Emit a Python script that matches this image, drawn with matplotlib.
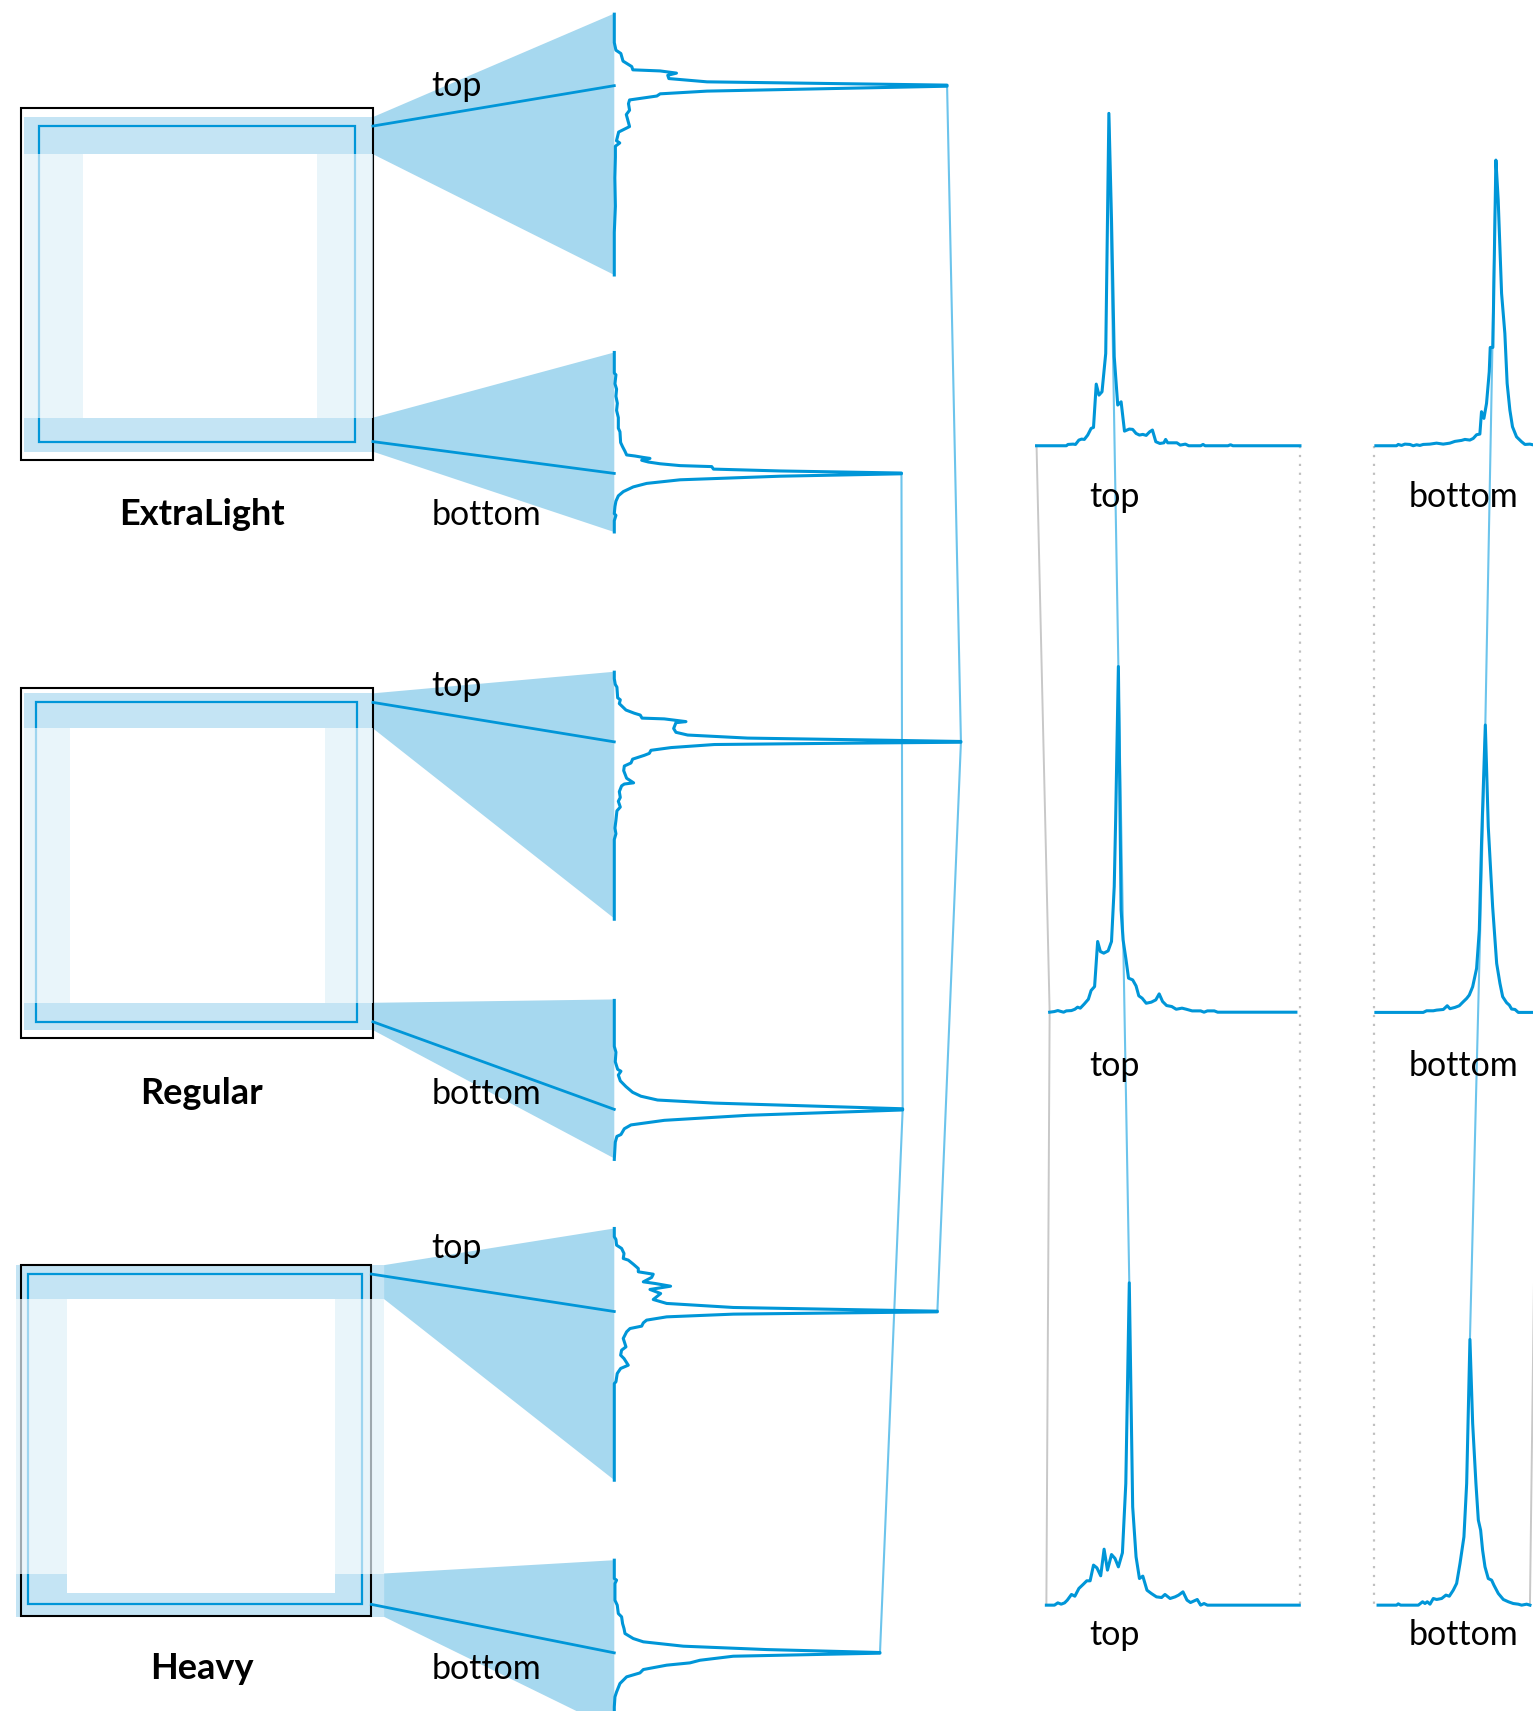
import numpy as np
import matplotlib
matplotlib.use("Agg")
import matplotlib.pyplot as plt
from matplotlib.patches import Rectangle, Polygon

plt.rcParams['font.family'] = ['Lato', 'DejaVu Sans']

# ---------------- DATA ----------------
weights = ["ExtraLight", "Regular", "Heavy"]
edges = ["top", "bottom"]

# vertical profiles (position along funnel, density)
EL_top_pos = [0, 26, 33, 36, 43, 48, 51, 52, 54, 56, 59, 62, 65, 66, 70.5, 73, 75, 78.6, 82, 88, 92, 103, 108, 116, 118, 121, 131, 150, 176, 200, 239]
EL_top_val = [0, 0, 1.5, 6, 8, 16, 17, 42, 57, 49, 50, 85, 305, 305, 85, 42, 39, 14, 13, 14, 11, 14, 4, 2, 5, 1, 1, 0.5, 1, 0, 0]
EL_bot_pos = [0, 18.9, 20.5, 28.7, 33.6, 40.1, 46.6, 53.1, 59.7, 69.4, 72.7, 82.5, 86.4, 90.6, 93.9, 94.9, 96.2, 97.1, 98.8, 100.4, 102.0, 103.7, 104.6, 106.9, 108.6, 110.5, 111.2, 113.4, 116.7, 120.0, 123.2, 127.5, 131.4, 136.3, 141.2, 147.7, 149.3, 154.2, 164.5]
EL_bot_val = [0, 0, 1.5, 0.6, 2.1, 1.5, 2.8, 2.1, 3.7, 3.7, 5.2, 5.8, 7.6, 9.8, 11.3, 19.0, 26.6, 32.7, 25.1, 31.2, 41.9, 60.3, 89.3, 90.9, 152.1, 263.2, 263.2, 152.1, 60.3, 29.7, 17.4, 8.3, 3.7, 1.5, 0.6, 0, 1.5, 0, 0]
R_top_pos = [0, 6.0, 11.2, 13.7, 23.5, 25.3, 28.8, 34.7, 37.6, 39.3, 42.1, 42.8, 45.3, 46.3, 51.6, 55.1, 57.6, 60.4, 62.1, 63.5, 64.2, 64.9, 66.3, 69.1, 71.6, 74.4, 76.2, 79.7, 83.2, 86.0, 90.2, 97.2, 101.4, 102.5, 104.2, 109.5, 114.8, 118.3, 123.6, 127.1, 135.8, 142.9, 148.1, 153.4, 226.4]
R_top_val = [0, 0, 0.9, 2.4, 3.1, 5.5, 4.6, 10.7, 18.3, 23.8, 25.4, 45.8, 65.7, 56.5, 54.4, 56.5, 67.2, 122.2, 232.2, 317.7, 317.7, 232.2, 91.7, 52.0, 33.6, 32.1, 27.5, 16.8, 15.3, 9.2, 8.6, 11.3, 17.7, 9.2, 6.7, 4.6, 5.5, 3.7, 5.5, 2.4, 1.5, 0.6, 1.5, 0, 0]
R_bot_pos = [0, 42.1, 47.4, 56.2, 63.2, 64.9, 68.4, 73.7, 79.0, 84.2, 87.8, 91.3, 94.1, 99.3, 100.4, 105.3, 109.9, 114.1, 117.6, 122.9, 124.6, 129.9, 145.7]
R_bot_val = [0, 0, 1.5, 0.9, 3.1, 6.1, 3.7, 5.5, 10.7, 16.8, 24.4, 39.7, 91.7, 264.3, 264.3, 122.2, 45.8, 15.3, 9.2, 6.1, 2.4, 0.9, 0]
H_top_pos = [0, 7.6, 10.1, 15.3, 18.3, 22.9, 27.5, 29.0, 32.7, 36.7, 39.7, 41.9, 44.9, 48.9, 50.4, 52.9, 55.9, 59.6, 65.1, 68.7, 72.4, 75.8, 76.4, 78.5, 81.0, 84.0, 86.5, 89.5, 91.7, 94.7, 100.8, 108.5, 111.5, 116.1, 119.2, 125.3, 128.3, 132.9, 140.5, 142.1, 230.7]
H_top_val = [0, 0, 1.5, 2.1, 6.7, 8.9, 8.2, 12.8, 17.4, 22.0, 22.0, 35.7, 34.2, 26.6, 37.3, 51.6, 32.7, 42.5, 35.7, 48.0, 109.1, 296.1, 296.1, 109.1, 48.0, 29.6, 26.6, 25.1, 14.4, 11.3, 8.2, 10.7, 6.7, 5.8, 8.9, 12.8, 5.8, 2.7, 1.5, 0, 0]
H_bot_pos = [0, 16.8, 18.3, 21.4, 36.7, 41.2, 48.9, 51.9, 58.1, 62.6, 67.2, 71.8, 74.8, 78.8, 81.9, 84.6, 85.2, 88.0, 91.7, 94.1, 96.2, 100.2, 103.3, 106.9, 113.0, 120.7, 125.3, 134.4, 160]
H_bot_val = [0, 0, 2.1, 0.6, 0.6, 2.7, 3.7, 6.7, 7.6, 8.9, 9.8, 17.4, 26.6, 63.2, 139.6, 243.5, 243.5, 109.0, 78.5, 69.3, 48.0, 26.6, 23.5, 11.3, 5.2, 2.1, 0.6, 0, 0]

# horizontal histograms (position, count)
EL_rt_pos = [0, 27.3, 28.8, 33.5, 35.7, 38.8, 41.3, 43.8, 46.9, 50.0, 52.2, 54.7, 57.2, 60.0, 63.4, 66.3, 68.7, 71.2, 74.4, 77.5, 80.6, 85.0, 88.1, 91.2, 94.3, 97.4, 100.5, 103.7, 106.2, 109.3, 113.0, 116.7, 118.3, 120.2, 128.6, 131.7, 136.4, 139.5, 150.4, 152.6, 154.5, 175.4, 177.8, 180.0, 241.4]
EL_rt_val = [0, 0, 1.2, 1.5, 1.2, 5.2, 6.1, 5.8, 9.8, 15.9, 16.8, 56.5, 46.4, 49.5, 84.6, 304.6, 206.8, 81.6, 37.3, 40.3, 13.4, 15.3, 15.0, 11.3, 9.8, 10.4, 9.5, 12.8, 14.4, 3.7, 2.1, 2.7, 5.8, 2.7, 2.7, 0.6, 1.5, 0, 0, 1.2, 0, 0, 0.9, 0, 0]
EL_rb_pos = [0, 18.9, 20.5, 23.5, 26.6, 31.2, 34.2, 37.3, 40.3, 43.4, 49.5, 55.6, 61.7, 67.8, 72.4, 78.5, 81.6, 86.1, 89.2, 92.3, 95.3, 96.8, 99.0, 101.4, 103.9, 104.8, 107.2, 108.1, 110.0, 112.1, 115.2, 118.2, 120.3, 122.8, 125.2, 128.9, 133.5, 136.6, 141.1, 143.9, 149]
EL_rb_val = [0, 0, 1.2, 0.3, 1.5, 1.2, 0, 0.9, 0.3, 1.2, 1.5, 2.4, 1.5, 2.4, 4.0, 4.9, 5.8, 5.2, 6.7, 10.1, 10.7, 31.2, 25.1, 38.8, 67.8, 90.1, 90.1, 145.7, 261.8, 225.2, 139.6, 103.0, 57.2, 32.7, 17.4, 8.2, 3.7, 1.2, 1.5, 0.9, 0]
R_rt_pos = [0, 4.4, 7.5, 10.6, 12.8, 15.3, 20.0, 23.1, 25.6, 28.1, 31.8, 35.5, 38.0, 41.2, 44.0, 46.5, 49.6, 53.6, 56.7, 59.2, 60.5, 63.0, 65.5, 67.3, 69.8, 72.3, 76.1, 79.2, 81.7, 84.8, 88.5, 93.2, 97.3, 100.4, 103.5, 107.2, 111.9, 116.0, 121.3, 125.3, 130.6, 138.4, 141.5, 144.6, 150.9, 154.0, 225.7]
R_rt_val = [0, 0.6, 1.5, 0.6, 0, 1.2, 1.5, 2.7, 4.6, 3.7, 7.6, 11.9, 19.9, 23.5, 64.8, 55.6, 54.1, 56.2, 64.8, 115.2, 176.3, 316.8, 93.8, 66.3, 49.5, 31.2, 29.6, 24.1, 15.0, 12.8, 8.2, 9.2, 11.3, 16.8, 9.8, 6.1, 5.2, 2.7, 3.7, 2.7, 1.2, 1.2, 0, 1.2, 1.2, 0, 0]
R_rb_pos = [0, 43.4, 46.5, 52.6, 55.7, 61.8, 65.4, 67.9, 72.5, 76.4, 80.1, 83.2, 85.6, 88.7, 92.3, 94.8, 96.9, 100.3, 103.0, 107.0, 110.7, 113.7, 116.2, 119.8, 122.3, 124.4, 127.5, 130.5, 148]
R_rb_val = [0, 0, 1.5, 1.5, 2.1, 2.7, 6.1, 3.4, 4.6, 6.1, 9.8, 12.8, 15.9, 23.5, 40.3, 75.5, 158.0, 263.4, 170.2, 96.9, 44.9, 26.6, 14.4, 8.9, 6.7, 3.1, 2.7, 0, 0]
H_rt_pos = [0, 7.4, 10.5, 13.6, 16.7, 19.2, 23.0, 26.1, 29.8, 33.9, 37.0, 40.1, 43.2, 46.3, 49.8, 52.9, 56.0, 59.7, 62.9, 66.0, 69.7, 72.8, 76.0, 79.1, 82.2, 85.3, 88.4, 92.2, 96.2, 100.9, 105.6, 108.7, 113.4, 118.0, 121.2, 125.2, 128.9, 132.1, 138.3, 141.4, 144.5, 147.6, 231.8]
H_rt_val = [0, 0, 2.1, 0.9, 2.1, 4.6, 9.8, 8.2, 15.3, 19.2, 22.3, 22.3, 36.7, 34.2, 26.9, 51.3, 32.1, 46.4, 42.8, 35.1, 48.0, 111.5, 295.4, 90.1, 44.3, 24.4, 26.6, 13.7, 10.7, 7.6, 7.0, 9.8, 6.1, 7.6, 9.2, 12.2, 4.6, 2.4, 5.2, 0, 1.5, 0, 0]
H_rb_pos = [0, 17.0, 18.5, 20.7, 36.9, 40.8, 43.0, 45.1, 47.6, 50.6, 53.7, 58.3, 62.2, 65.3, 68.9, 72.0, 75.1, 78.7, 81.2, 84.2, 86.7, 89.7, 91.9, 94.0, 95.8, 98.0, 101.0, 104.1, 106.2, 110.2, 114.8, 119.4, 123.9, 128.5, 131.6, 136.2, 139.2]
H_rb_val = [0, 0, 1.2, 0, 0, 3.1, 1.5, 3.1, 0.9, 6.1, 5.2, 6.1, 9.2, 8.2, 13.7, 19.9, 38.2, 62.6, 111.5, 243.5, 166.5, 111.5, 77.9, 68.7, 50.4, 35.1, 24.4, 22.9, 18.3, 10.7, 5.2, 3.1, 1.5, 0.9, 0, 0.9, 0]

# ---------------- LAYOUT ----------------
BLUE = "#0096d8"
LIGHT = "#6cc4ec"
FUNNEL = "#a6d8ef"
BAND = "#c4e4f4"
COLUMN = "#e1f1f9"
GRAY = "#c8c8c8"

panels = [
    dict(frame=(19.2, 99.2, 341.8, 421.4), box=(21.7, 107.3, 341.8, 413.9), tb=141.3, bb=382.8,
         inner=(76.1, 290.9, 382.8), outline=(36.0, 115.5, 325.3, 404.7), fl=341.8, le=341.8,
         ftop=(12.4, 252.0), fbot=(323.0, 487.6),
         vt=(EL_top_pos, EL_top_val, 13.0), vb=(EL_bot_pos, EL_bot_val, 323.0),
         ht=(EL_rt_pos, EL_rt_val, 950.0, 408.5), hb=(EL_rb_pos, EL_rb_val, 1261.0, 408.5),
         ly=(88.4, 481.5), ry=464.5),
    dict(frame=(19.2, 630.9, 341.8, 951.6), box=(21.7, 635.4, 341.8, 944.0), tb=667.5, bb=919.0,
         inner=(64.2, 298.0, 919.0), outline=(32.7, 643.7, 327.3, 936.4), fl=341.8, le=341.8,
         ftop=(615.6, 841.7), fbot=(915.9, 1061.6),
         vt=(R_top_pos, R_top_val, 616.0), vb=(R_bot_pos, R_bot_val, 916.8),
         ht=(R_rt_pos, R_rt_val, 962.0, 927.6), hb=(R_rb_pos, R_rb_val, 1261.0, 927.8),
         ly=(637.5, 1011.5), ry=986.0),
    dict(frame=(19.2, 1159.4, 340.3, 1480.8), box=(14.3, 1159.4, 352.0, 1481.7), tb=1190.5, bb=1442.0,
         inner=(61.4, 307.0, 1459.7), outline=(25.8, 1167.6, 331.4, 1470.3), fl=352.0, le=340.4,
         ftop=(1125.8, 1356.4), fbot=(1429.8, 1585.0),
         vt=(H_top_pos, H_top_val, 1125.8), vb=(H_bot_pos, H_bot_val, 1429.8),
         ht=(H_rt_pos, H_rt_val, 959.0, 1471.0), hb=(H_rb_pos, H_rb_val, 1263.0, 1471.0),
         ly=(1152.5, 1538.5), ry=1507.5),
]
DENS_X = 563.0
RIGHT_END = [1410.0, 1409.0, 1402.2]
DOT_X = (1191.4, 1259.0)
FS = 24.5
FS_BOLD = 26.0
LW_DENS = 2.2

fig = plt.figure(figsize=(15.33, 17.11), dpi=100)
ax = fig.add_axes([0, 0, 1, 1])
ax.set_xlim(0, 1405)
ax.set_ylim(1568, 0)
ax.axis('off')

def peak(pos, val):
    v = np.asarray(val, float); p = np.asarray(pos, float)
    m = v == v.max()
    return p[m].mean(), v.max()

lt_peaks, lb_peaks, rt_peaks, rb_peaks = [], [], [], []
rt_starts = []

for i, P in enumerate(panels):
    fx0, fy0, fx1, fy1 = P['frame']
    bx0, by0, bx1, by1 = P['box']
    ix0, ix1, iy1 = P['inner']
    ox0, oy0, ox1, oy1 = P['outline']

    # funnels
    ax.add_patch(Polygon([(P['fl'], by0), (DENS_X, P['ftop'][0]), (DENS_X, P['ftop'][1]), (P['fl'], P['tb'])],
                         closed=True, facecolor=FUNNEL, edgecolor='none', zorder=1))
    ax.add_patch(Polygon([(P['fl'], P['bb']), (DENS_X, P['fbot'][0]), (DENS_X, P['fbot'][1]), (P['fl'], by1)],
                         closed=True, facecolor=FUNNEL, edgecolor='none', zorder=1))
    # glyph box
    ax.add_patch(Rectangle((bx0, by0), bx1 - bx0, by1 - by0, facecolor=BAND, edgecolor='none', zorder=2))
    ax.add_patch(Rectangle((bx0, P['tb']), bx1 - bx0, P['bb'] - P['tb'], facecolor='white', edgecolor='none', zorder=2.1))
    ax.add_patch(Rectangle((ix0, P['tb']), ix1 - ix0, iy1 - P['tb'], facecolor='white', edgecolor='none', zorder=2.2))
    ax.add_patch(Rectangle((fx0, fy0), fx1 - fx0, fy1 - fy0, facecolor='none', edgecolor='black', lw=1.5, zorder=3))
    ax.add_patch(Rectangle((ox0, oy0), ox1 - ox0, oy1 - oy0, facecolor='none', edgecolor=BLUE, lw=1.6, zorder=4))
    for cx0, cx1 in ((bx0, ix0), (ix1, bx1)):
        ax.add_patch(Rectangle((cx0, P['tb']), cx1 - cx0, P['bb'] - P['tb'], facecolor=COLUMN, alpha=0.7,
                               edgecolor='none', zorder=5))

    # vertical density profiles
    (tp, tv, ty0), (bp, bv, by0d) = P['vt'], P['vb']
    pk_t, mx_t = peak(tp, tv)
    pk_b, mx_b = peak(bp, bv)
    lt_peaks.append((DENS_X + mx_t, ty0 + pk_t))
    lb_peaks.append((DENS_X + mx_b, by0d + pk_b))
    ax.plot([P['le'], DENS_X], [oy0, ty0 + pk_t], color=BLUE, lw=2.0, zorder=6)
    ax.plot([P['le'], DENS_X], [oy1, by0d + pk_b], color=BLUE, lw=2.0, zorder=6)
    ax.plot(DENS_X + np.asarray(tv), ty0 + np.asarray(tp), color=BLUE, lw=LW_DENS, zorder=8, solid_joinstyle='round')
    ax.plot(DENS_X + np.asarray(bv), by0d + np.asarray(bp), color=BLUE, lw=LW_DENS, zorder=8, solid_joinstyle='round')

    # horizontal histograms
    (hp, hv, hx0, hb0), (bp2, bv2, bx02, bb02) = P['ht'], P['hb']
    ax.plot(hx0 + np.asarray(hp), hb0 - np.asarray(hv), color=BLUE, lw=LW_DENS, zorder=8, solid_joinstyle='round')
    ax.plot(bx02 + np.asarray(bp2), bb02 - np.asarray(bv2), color=BLUE, lw=LW_DENS, zorder=8, solid_joinstyle='round')
    p1, m1 = peak(hp, hv)
    p2, m2 = peak(bp2, bv2)
    rt_peaks.append((hx0 + p1, hb0 - m1))
    rb_peaks.append((bx02 + p2, bb02 - m2))
    rt_starts.append((hx0, hb0))

    # labels
    ax.text(418.5, P['ly'][0], edges[0], ha='center', va='baseline', fontsize=FS, zorder=10)
    ax.text(445.5, P['ly'][1], edges[1], ha='center', va='baseline', fontsize=FS, zorder=10)
    ax.text(185, P['ly'][1], weights[i], ha='center', va='baseline', fontsize=FS_BOLD, fontweight='bold', zorder=10)
    ax.text(1021, P['ry'], edges[0], ha='center', va='baseline', fontsize=FS, zorder=10)
    ax.text(1341.5, P['ry'], edges[1], ha='center', va='baseline', fontsize=FS, zorder=10)

# gray guide lines for histograms
ax.plot([s[0] for s in rt_starts], [s[1] for s in rt_starts], color=GRAY, lw=1.4, zorder=6)
ax.plot(RIGHT_END, [s[1] for s in rt_starts], color=GRAY, lw=1.4, zorder=6)
for dx in DOT_X:
    ax.plot([dx, dx], [rt_starts[0][1], rt_starts[-1][1]], color="#c0c0c0", lw=1.6,
            linestyle=(0, (1, 3)), zorder=6)

# connecting lines through peaks
for pts in (lt_peaks, lb_peaks, rt_peaks, rb_peaks):
    ax.plot([p[0] for p in pts], [p[1] for p in pts], color=LIGHT, lw=1.5, zorder=7)

fig.savefig("out.png", dpi=100)
